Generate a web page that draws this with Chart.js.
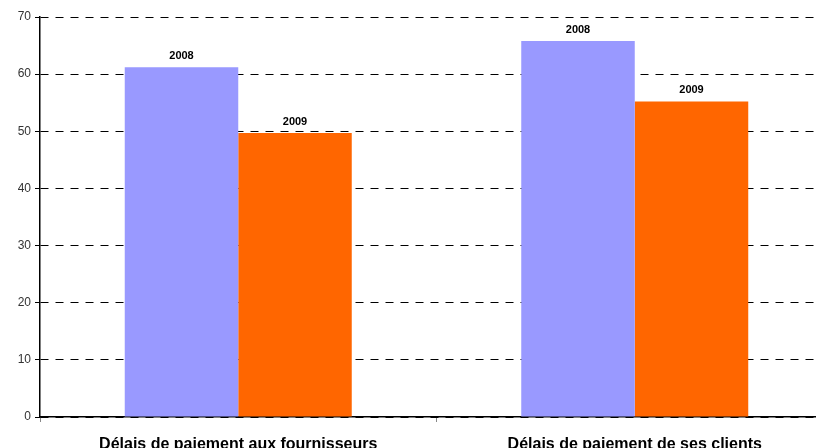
<!DOCTYPE html>
<html lang="fr">
<head>
<meta charset="UTF-8">
<title>Délais de paiement</title>
<style>
  html, body { margin: 0; padding: 0; background: #fff; overflow: hidden; }
  .wrap { width: 850px; height: 448px; }
</style>
</head>
<body>
<div class="wrap"><canvas id="myChart" width="850" height="448"></canvas></div>
<script src="https://cdn.jsdelivr.net/npm/chart.js"></script>
<script>
  const categories = ['Délais de paiement aux fournisseurs', 'Délais de paiement de ses clients'];
  const seriesNames = ['2008', '2009'];
  const values2008 = [61.2, 65.8];
  const values2009 = [49.7, 55.2];
  const yTicks = [0, 10, 20, 30, 40, 50, 60, 70];

  // labels "2008" / "2009" above each bar
  const barLabels = {
    id: 'barLabels',
    afterDatasetsDraw(chart) {
      const ctx = chart.ctx;
      ctx.save();
      ctx.font = 'bold 11px Arial, "Liberation Sans", sans-serif';
      ctx.fillStyle = '#000';
      ctx.textAlign = 'center';
      ctx.textBaseline = 'bottom';
      chart.data.datasets.forEach((ds, i) => {
        chart.getDatasetMeta(i).data.forEach(bar => {
          ctx.fillText(ds.label, bar.x, bar.y - 6);
        });
      });
      ctx.restore();
    }
  };

  new Chart(document.getElementById('myChart'), {
    type: 'bar',
    data: {
      labels: categories,
      datasets: [
        { label: seriesNames[0], data: values2008, backgroundColor: '#9999ff' },
        { label: seriesNames[1], data: values2009, backgroundColor: '#ff6600' }
      ]
    },
    options: {
      responsive: false,
      animation: false,
      events: [],
      layout: { padding: { top: 17, right: 17, left: 0, bottom: 0 } },
      plugins: { legend: { display: false }, tooltip: { enabled: false } },
      datasets: { bar: { categoryPercentage: 0.5725, barPercentage: 1 } },
      scales: {
        x: {
          grid: { display: true, drawOnChartArea: false, offset: true, tickLength: 5, tickColor: '#888' },
          border: { color: '#000', width: 1.5 },
          ticks: {
            color: '#000',
            padding: 13,
            maxRotation: 0,
            font: { family: 'Arial, "Liberation Sans", sans-serif', size: 16, weight: 'bold' }
          },
          afterFit(scale) { scale.height = 31; }
        },
        y: {
          min: 0,
          max: 70,
          afterBuildTicks(scale) { scale.ticks = yTicks.map(v => ({ value: v })); },
          grid: {
            color: '#000',
            lineWidth: 1,
            tickLength: 5,
            tickColor: '#000',
            tickBorderDash: []
          },
          border: { color: '#000', width: 1.5, dash: [8, 7] },
          ticks: {
            color: '#333',
            padding: 4,
            font: { family: 'Arial, "Liberation Sans", sans-serif', size: 12 }
          },
          afterFit(scale) { scale.width = 40; }
        }
      }
    },
    plugins: [barLabels]
  });
</script>
</body>
</html>
